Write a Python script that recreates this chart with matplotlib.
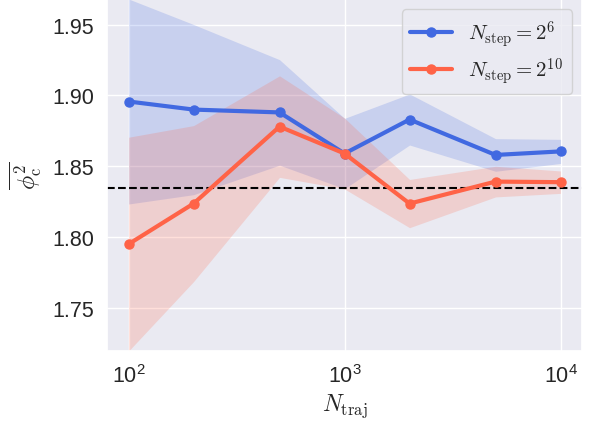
import numpy as np
import matplotlib
matplotlib.use("Agg")
import matplotlib.pyplot as plt
import seaborn as sns

# trajectory counts
n_traj = [100, 200, 500, 1000, 2000, 5000, 10000]

# N_step = 2^6 : mean and spread
phi_6 = [1.8957, 1.890, 1.888, 1.859, 1.883, 1.858, 1.8605]
err_6 = [0.0723, 0.060, 0.0372, 0.0248, 0.018, 0.0115, 0.0085]

# N_step = 2^10 : mean and spread
phi_10 = [1.7951, 1.8237, 1.878, 1.859, 1.8237, 1.8392, 1.8388]
err_10 = [0.0754, 0.055, 0.0358, 0.025, 0.017, 0.0108, 0.0079]

# reference value
phi_ref = 1.835

sns.set_theme(style="darkgrid")
plt.rcParams['font.family'] = ['Liberation Sans', 'DejaVu Sans']
plt.rcParams['mathtext.fontset'] = 'cm'

fig = plt.figure(figsize=(5.91, 4.27), dpi=100)
ax = fig.add_axes([0.181, 0.1756, 0.804, 0.8244])

ax.axhline(phi_ref, color="black", ls="--", lw=1.5, zorder=1.5)

series = [
    (phi_6, err_6, "royalblue", r"$N_{\rm step} = 2^{6}$"),
    (phi_10, err_10, "tomato", r"$N_{\rm step} = 2^{10}$"),
]
for mean, err, col, lab in series:
    mean = np.array(mean)
    err = np.array(err)
    ax.fill_between(n_traj, mean - err, mean + err, color=col, alpha=0.2, lw=0)
    ax.plot(n_traj, mean, "-o", color=col, lw=3, ms=6.5, label=lab)

ax.set_xscale("log")
ax.set_ylim(1.7197, 1.968)
ax.set_yticks([1.75, 1.80, 1.85, 1.90, 1.95])
ax.tick_params(labelsize=15.5)
ax.xaxis.set_minor_locator(matplotlib.ticker.NullLocator())

ax.set_xlabel(r"$N_{\rm traj}$", fontsize=17, labelpad=3)
ax.set_ylabel(r"$\overline{\phi^2_{\rm c}}$", fontsize=17, labelpad=6)

ax.legend(loc="upper right", fontsize=15, labelspacing=0.3)

fig.savefig("out.png", dpi=100)
